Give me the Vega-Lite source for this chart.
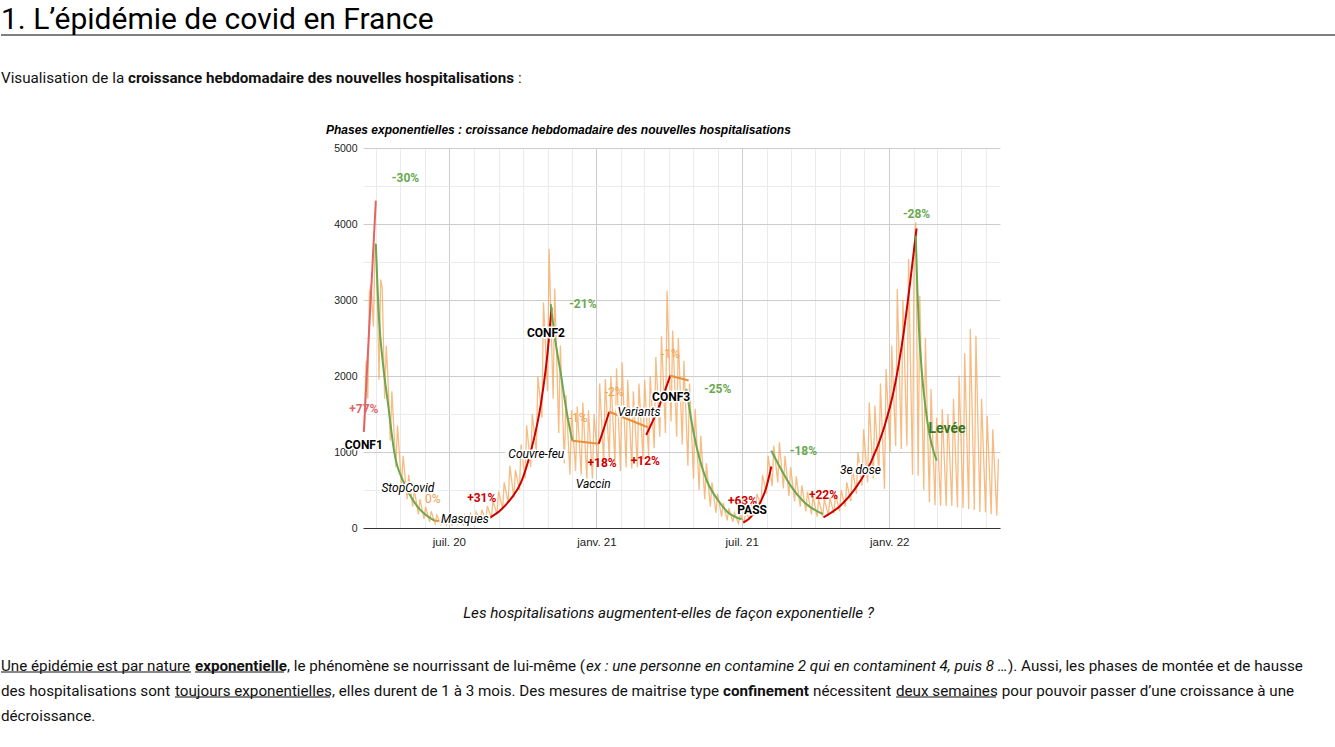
{
"$schema": "https://vega.github.io/schema/vega-lite/v6.json",
"padding": {"top": 4, "left": 0, "right": 0, "bottom": 0},
"spacing": 0,
"config": {
  "view": {"stroke": null},
  "font": "Roboto",
  "title": {"anchor": "start", "frame": "group", "offset": 0, "color": "#111111", "font": "Roboto", "fontWeight": "normal", "fontSize": 15.2}
},
"datasets": {
"daily": [
{"d":"2020/03/18","v":1300},{"d":"2020/03/19","v":1900},{"d":"2020/03/20","v":2200},{"d":"2020/03/22","v":1700},
{"d":"2020/03/24","v":3100},{"d":"2020/03/26","v":3200},{"d":"2020/03/29","v":2650},{"d":"2020/03/31","v":3700},
{"d":"2020/04/01","v":3750},{"d":"2020/04/02","v":3500},{"d":"2020/04/05","v":1950},{"d":"2020/04/07","v":3270},
{"d":"2020/04/09","v":3150},{"d":"2020/04/12","v":1700},{"d":"2020/04/14","v":2400},{"d":"2020/04/16","v":2000},
{"d":"2020/04/19","v":1150},{"d":"2020/04/21","v":1800},{"d":"2020/04/26","v":800},{"d":"2020/04/28","v":1350},
{"d":"2020/05/03","v":550},{"d":"2020/05/05","v":950},{"d":"2020/05/10","v":380},{"d":"2020/05/12","v":700},
{"d":"2020/05/17","v":280},{"d":"2020/05/19","v":500},{"d":"2020/05/24","v":180},{"d":"2020/05/26","v":380},
{"d":"2020/05/31","v":120},{"d":"2020/06/02","v":280},{"d":"2020/06/07","v":80},{"d":"2020/06/09","v":220},
{"d":"2020/06/14","v":60},{"d":"2020/06/16","v":170},{"d":"2020/06/21","v":50},{"d":"2020/06/23","v":140},
{"d":"2020/06/28","v":40},{"d":"2020/06/30","v":130},{"d":"2020/07/05","v":40},{"d":"2020/07/07","v":140},
{"d":"2020/07/12","v":50},{"d":"2020/07/14","v":150},{"d":"2020/07/19","v":50},{"d":"2020/07/21","v":170},
{"d":"2020/07/26","v":60},{"d":"2020/07/28","v":190},{"d":"2020/08/02","v":70},{"d":"2020/08/04","v":210},
{"d":"2020/08/09","v":80},{"d":"2020/08/11","v":240},{"d":"2020/08/16","v":100},{"d":"2020/08/18","v":290},
{"d":"2020/08/23","v":130},{"d":"2020/08/25","v":360},{"d":"2020/08/30","v":180},{"d":"2020/09/01","v":480},
{"d":"2020/09/06","v":250},{"d":"2020/09/08","v":600},{"d":"2020/09/13","v":330},{"d":"2020/09/15","v":820},
{"d":"2020/09/20","v":400},{"d":"2020/09/22","v":760},{"d":"2020/09/27","v":500},{"d":"2020/09/29","v":1100},
{"d":"2020/10/04","v":650},{"d":"2020/10/06","v":1350},{"d":"2020/10/11","v":800},{"d":"2020/10/13","v":1500},
{"d":"2020/10/18","v":1000},{"d":"2020/10/20","v":2000},{"d":"2020/10/25","v":1450},{"d":"2020/10/27","v":2970},
{"d":"2020/11/01","v":1800},{"d":"2020/11/03","v":3670},{"d":"2020/11/08","v":1700},{"d":"2020/11/10","v":3150},
{"d":"2020/11/15","v":1250},{"d":"2020/11/17","v":2400},{"d":"2020/11/22","v":850},{"d":"2020/11/24","v":1750},
{"d":"2020/11/29","v":700},{"d":"2020/12/01","v":1550},{"d":"2020/12/06","v":750},{"d":"2020/12/08","v":1600},
{"d":"2020/12/13","v":700},{"d":"2020/12/15","v":1650},{"d":"2020/12/20","v":650},{"d":"2020/12/22","v":1550},
{"d":"2020/12/27","v":650},{"d":"2020/12/29","v":1500},{"d":"2021/01/03","v":800},{"d":"2021/01/05","v":1900},
{"d":"2021/01/10","v":850},{"d":"2021/01/12","v":1960},{"d":"2021/01/17","v":900},{"d":"2021/01/19","v":2000},
{"d":"2021/01/24","v":850},{"d":"2021/01/26","v":2100},{"d":"2021/01/31","v":750},{"d":"2021/02/02","v":2180},
{"d":"2021/02/07","v":800},{"d":"2021/02/09","v":1950},{"d":"2021/02/14","v":780},{"d":"2021/02/16","v":1800},
{"d":"2021/02/21","v":800},{"d":"2021/02/23","v":1900},{"d":"2021/02/28","v":900},{"d":"2021/03/02","v":1950},
{"d":"2021/03/07","v":950},{"d":"2021/03/09","v":2000},{"d":"2021/03/14","v":1050},{"d":"2021/03/16","v":2250},
{"d":"2021/03/21","v":1200},{"d":"2021/03/23","v":2530},{"d":"2021/03/28","v":1250},{"d":"2021/03/30","v":3122},
{"d":"2021/04/04","v":1400},{"d":"2021/04/06","v":2600},{"d":"2021/04/11","v":1200},{"d":"2021/04/13","v":2500},
{"d":"2021/04/18","v":1100},{"d":"2021/04/20","v":2200},{"d":"2021/04/25","v":820},{"d":"2021/04/27","v":1900},
{"d":"2021/05/02","v":650},{"d":"2021/05/04","v":1570},{"d":"2021/05/09","v":500},{"d":"2021/05/11","v":1215},
{"d":"2021/05/16","v":380},{"d":"2021/05/18","v":850},{"d":"2021/05/23","v":280},{"d":"2021/05/25","v":600},
{"d":"2021/05/30","v":200},{"d":"2021/06/01","v":450},{"d":"2021/06/06","v":150},{"d":"2021/06/08","v":330},
{"d":"2021/06/13","v":100},{"d":"2021/06/15","v":260},{"d":"2021/06/20","v":80},{"d":"2021/06/22","v":200},
{"d":"2021/06/27","v":60},{"d":"2021/06/29","v":180},{"d":"2021/07/04","v":80},{"d":"2021/07/06","v":200},
{"d":"2021/07/11","v":120},{"d":"2021/07/13","v":300},{"d":"2021/07/18","v":200},{"d":"2021/07/20","v":450},
{"d":"2021/07/25","v":300},{"d":"2021/07/27","v":700},{"d":"2021/08/01","v":450},{"d":"2021/08/03","v":950},
{"d":"2021/08/08","v":550},{"d":"2021/08/10","v":1083},{"d":"2021/08/15","v":600},{"d":"2021/08/17","v":1127},
{"d":"2021/08/22","v":520},{"d":"2021/08/24","v":950},{"d":"2021/08/29","v":420},{"d":"2021/08/31","v":800},
{"d":"2021/09/05","v":350},{"d":"2021/09/07","v":680},{"d":"2021/09/12","v":280},{"d":"2021/09/14","v":560},
{"d":"2021/09/19","v":220},{"d":"2021/09/21","v":480},{"d":"2021/09/26","v":180},{"d":"2021/09/28","v":420},
{"d":"2021/10/03","v":150},{"d":"2021/10/05","v":380},{"d":"2021/10/10","v":150},{"d":"2021/10/12","v":380},
{"d":"2021/10/17","v":170},{"d":"2021/10/19","v":400},{"d":"2021/10/24","v":190},{"d":"2021/10/26","v":450},
{"d":"2021/10/31","v":220},{"d":"2021/11/02","v":500},{"d":"2021/11/07","v":280},{"d":"2021/11/09","v":600},
{"d":"2021/11/14","v":350},{"d":"2021/11/16","v":800},{"d":"2021/11/21","v":450},{"d":"2021/11/23","v":1000},
{"d":"2021/11/28","v":557},{"d":"2021/11/30","v":1300},{"d":"2021/12/05","v":600},{"d":"2021/12/07","v":1654},
{"d":"2021/12/12","v":650},{"d":"2021/12/14","v":1610},{"d":"2021/12/19","v":700},{"d":"2021/12/21","v":1900},
{"d":"2021/12/26","v":513},{"d":"2021/12/28","v":2092},{"d":"2022/01/02","v":1000},{"d":"2022/01/04","v":2400},
{"d":"2022/01/09","v":1080},{"d":"2022/01/11","v":3145},{"d":"2022/01/16","v":1040},{"d":"2022/01/18","v":3000},
{"d":"2022/01/23","v":1083},{"d":"2022/01/25","v":3540},{"d":"2022/01/30","v":700},{"d":"2022/02/01","v":3700},
{"d":"2022/02/03","v":4022},{"d":"2022/02/06","v":688},{"d":"2022/02/08","v":3057},{"d":"2022/02/13","v":500},
{"d":"2022/02/15","v":2500},{"d":"2022/02/20","v":340},{"d":"2022/02/22","v":1829},{"d":"2022/02/27","v":300},
{"d":"2022/03/01","v":1450},{"d":"2022/03/06","v":293},{"d":"2022/03/08","v":1566},{"d":"2022/03/13","v":290},
{"d":"2022/03/15","v":1500},{"d":"2022/03/20","v":293},{"d":"2022/03/22","v":1700},{"d":"2022/03/27","v":270},
{"d":"2022/03/29","v":2004},{"d":"2022/04/03","v":260},{"d":"2022/04/05","v":2300},{"d":"2022/04/10","v":250},
{"d":"2022/04/12","v":2618},{"d":"2022/04/17","v":240},{"d":"2022/04/19","v":2530},{"d":"2022/04/24","v":210},
{"d":"2022/04/26","v":1700},{"d":"2022/05/01","v":206},{"d":"2022/05/03","v":1478},{"d":"2022/05/08","v":180},
{"d":"2022/05/10","v":1300},{"d":"2022/05/15","v":162},{"d":"2022/05/17","v":908}
],
"curves": [
{"s":1,"k":"h1","d":"2020/03/17","v":1263},{"s":1,"k":"h1","d":"2020/04/01","v":4307},
{"s":2,"k":"b","d":"2020/04/01","v":3737},{"s":2,"k":"b","d":"2020/04/05","v":2750},{"s":2,"k":"b","d":"2020/04/10","v":2150},{"s":2,"k":"b","d":"2020/04/16","v":1654},{"s":2,"k":"b","d":"2020/04/24","v":996},{"s":2,"k":"b","d":"2020/05/07","v":575},{"s":2,"k":"b","d":"2020/05/22","v":295},{"s":2,"k":"b","d":"2020/06/13","v":96},
{"s":3,"k":"s","d":"2020/06/13","v":96},{"s":3,"k":"s","d":"2020/06/23","v":92},
{"s":4,"k":"h","d":"2020/08/20","v":128},{"s":4,"k":"h","d":"2020/09/04","v":240},{"s":4,"k":"h","d":"2020/09/16","v":380},{"s":4,"k":"h","d":"2020/09/29","v":601},{"s":4,"k":"h","d":"2020/10/11","v":1000},{"s":4,"k":"h","d":"2020/10/24","v":1650},{"s":4,"k":"h","d":"2020/11/01","v":2300},{"s":4,"k":"h","d":"2020/11/06","v":2904},
{"s":5,"k":"b","d":"2020/11/05","v":2947},{"s":5,"k":"b","d":"2020/11/11","v":2450},{"s":5,"k":"b","d":"2020/11/18","v":2000},{"s":5,"k":"b","d":"2020/11/25","v":1520},{"s":5,"k":"b","d":"2020/12/02","v":1149},
{"s":6,"k":"s","d":"2020/12/02","v":1149},{"s":6,"k":"s","d":"2021/01/04","v":1110},
{"s":7,"k":"h","d":"2021/01/04","v":1110},{"s":7,"k":"h","d":"2021/01/10","v":1303},{"s":7,"k":"h","d":"2021/01/17","v":1530},
{"s":8,"k":"s","d":"2021/01/17","v":1530},{"s":8,"k":"s","d":"2021/03/06","v":1325},
{"s":9,"k":"h","d":"2021/03/04","v":1224},{"s":9,"k":"h","d":"2021/03/19","v":1570},{"s":9,"k":"h","d":"2021/04/03","v":2004},
{"s":10,"k":"s","d":"2021/04/03","v":2004},{"s":10,"k":"s","d":"2021/04/26","v":1940},
{"s":11,"k":"b","d":"2021/04/23","v":1830},{"s":11,"k":"b","d":"2021/05/02","v":1260},{"s":11,"k":"b","d":"2021/05/10","v":890},{"s":11,"k":"b","d":"2021/05/19","v":610},{"s":11,"k":"b","d":"2021/06/02","v":358},{"s":11,"k":"b","d":"2021/06/13","v":215},{"s":11,"k":"b","d":"2021/07/01","v":115},
{"s":12,"k":"h","d":"2021/07/03","v":70},{"s":12,"k":"h","d":"2021/07/12","v":140},{"s":12,"k":"h","d":"2021/07/21","v":270},{"s":12,"k":"h","d":"2021/08/01","v":545},{"s":12,"k":"h","d":"2021/08/07","v":810},
{"s":13,"k":"b","d":"2021/08/07","v":1018},{"s":13,"k":"b","d":"2021/08/19","v":776},{"s":13,"k":"b","d":"2021/08/31","v":557},{"s":13,"k":"b","d":"2021/09/17","v":338},{"s":13,"k":"b","d":"2021/10/10","v":184},
{"s":14,"k":"h","d":"2021/10/11","v":141},{"s":14,"k":"h","d":"2021/11/01","v":293},{"s":14,"k":"h","d":"2021/11/22","v":557},{"s":14,"k":"h","d":"2021/12/09","v":864},{"s":14,"k":"h","d":"2021/12/25","v":1303},{"s":14,"k":"h","d":"2022/01/07","v":1829},{"s":14,"k":"h","d":"2022/01/19","v":2575},{"s":14,"k":"h","d":"2022/01/27","v":3233},{"s":14,"k":"h","d":"2022/02/04","v":3943},
{"s":15,"k":"b","d":"2022/02/03","v":3846},{"s":15,"k":"b","d":"2022/02/05","v":3145},{"s":15,"k":"b","d":"2022/02/07","v":2618},{"s":15,"k":"b","d":"2022/02/11","v":2004},{"s":15,"k":"b","d":"2022/02/17","v":1434},{"s":15,"k":"b","d":"2022/03/01","v":886}
],
"labels": [
{"d":"2020/05/08","v":4605,"txt":"-30%","k":"b"},
{"d":"2020/03/17","v":1566,"txt":"+77%","k":"h1"},
{"d":"2020/03/17","v":1092,"txt":"CONF1","k":"conf"},
{"d":"2020/05/11","v":526,"txt":"StopCovid","k":"ev"},
{"d":"2020/06/11","v":382,"txt":"0%","k":"s"},
{"d":"2020/07/21","v":118,"txt":"Masques","k":"ev"},
{"d":"2020/08/11","v":395,"txt":"+31%","k":"h"},
{"d":"2020/10/18","v":974,"txt":"Couvre-feu","k":"ev"},
{"d":"2020/10/30","v":2566,"txt":"CONF2","k":"conf"},
{"d":"2020/12/15","v":2947,"txt":"-21%","k":"b"},
{"d":"2020/12/09","v":1447,"txt":"-1%","k":"s"},
{"d":"2021/01/08","v":855,"txt":"+18%","k":"h"},
{"d":"2020/12/28","v":579,"txt":"Vaccin","k":"ev"},
{"d":"2021/01/23","v":1789,"txt":"-2%","k":"s"},
{"d":"2021/02/23","v":1526,"txt":"Variants","k":"ev"},
{"d":"2021/03/03","v":882,"txt":"+12%","k":"h"},
{"d":"2021/04/04","v":1724,"txt":"CONF3","k":"conf"},
{"d":"2021/04/03","v":2289,"txt":"-1%","k":"s"},
{"d":"2021/06/01","v":1829,"txt":"-25%","k":"b"},
{"d":"2021/07/02","v":355,"txt":"+63%","k":"h"},
{"d":"2021/07/14","v":237,"txt":"PASS","k":"conf"},
{"d":"2021/09/16","v":1013,"txt":"-18%","k":"b"},
{"d":"2021/10/11","v":434,"txt":"+22%","k":"h"},
{"d":"2021/11/26","v":763,"txt":"3e dose","k":"ev"},
{"d":"2022/02/04","v":4132,"txt":"-28%","k":"b"},
{"d":"2022/03/14","v":1303,"txt":"Levée","k":"lev"}
]
},
"vconcat": [
{"width": 1335, "height": 34.5,
 "title": {"text": "1. L’épidémie de covid en France", "fontSize": 30, "offset": 0, "color": "#000000"},
 "data": {"values": [{"a": 1}]},
 "mark": {"type": "rule", "color": "#000000", "strokeWidth": 1},
 "encoding": {"y": {"field": "a", "type": "quantitative", "scale": {"domain": [0, 1]}, "axis": null}}},
{"hconcat": [
  {"width": 0, "height": 33.8, "data": {"values": []}, "mark": "rule", "encoding": {}, "title": {"text": "Visualisation de la \u200b"}},
  {"width": 0, "height": 33.8, "data": {"values": []}, "mark": "rule", "encoding": {}, "title": {"text": "croissance hebdomadaire des nouvelles hospitalisations \u200b", "fontWeight": "bold"}},
  {"width": 0, "height": 33.8, "data": {"values": []}, "mark": "rule", "encoding": {}, "title": {"text": ":"}}
 ], "spacing": 0},
{"hconcat": [
  {"width": 325, "height": 456.5, "data": {"values": []}, "mark": "rule", "encoding": {}},
  {"width": 637, "height": 380,
   "title": {"text": "Phases exponentielles : croissance hebdomadaire des nouvelles hospitalisations", "font": "Liberation Sans", "fontSize": 12, "fontWeight": "bold", "fontStyle": "italic", "color": "#000000", "anchor": "start", "frame": "group", "dx": -37, "offset": 6},
   "encoding": {
     "x": {"field": "d", "type": "temporal",
       "scale": {"domain": [{"year": 2020, "month": 3, "date": 16}, {"year": 2022, "month": 5, "date": 19}]},
       "axis": {"title": null, "tickCount": {"interval": "month", "step": 1},
         "labelExpr": "month(datum.value) == 0 ? 'janv. ' + timeFormat(datum.value, '%y') : (month(datum.value) == 6 ? 'juil. ' + timeFormat(datum.value, '%y') : '')",
         "grid": true, "gridColor": {"condition": {"test": "month(datum.value) % 6 == 0", "value": "#cccccc"}, "value": "#ebebeb"},
         "ticks": false, "domain": true, "domainColor": "#333333", "domainWidth": 1,
         "labelPadding": 8, "labelFontSize": 11.5, "labelFont": "Liberation Sans", "labelColor": "#222222",
         "labelOverlap": false, "labelFlush": false, "labelBound": false}},
     "y": {"field": "v", "type": "quantitative",
       "scale": {"domain": [0, 5000], "nice": false},
       "axis": {"title": null, "values": [0, 500, 1000, 1500, 2000, 2500, 3000, 3500, 4000, 4500, 5000],
         "labelExpr": "datum.value % 1000 == 0 ? format(datum.value, 'd') : ''",
         "grid": true, "gridColor": {"condition": {"test": "datum.value % 1000 == 0", "value": "#cccccc"}, "value": "#ebebeb"},
         "domain": false, "ticks": false, "labelPadding": 6, "labelFontSize": 10.5, "labelFont": "Liberation Sans", "labelColor": "#222222",
         "minExtent": 29, "maxExtent": 29, "labelOverlap": false}}
   },
   "layer": [
     {"data": {"name": "daily"}, "mark": {"type": "line", "color": "#f3a55a", "opacity": 0.75, "strokeWidth": 1.3}},
     {"data": {"name": "curves"}, "mark": {"type": "line", "strokeWidth": 2, "interpolate": "monotone"},
      "encoding": {"detail": {"field": "s", "type": "nominal"},
        "color": {"field": "k", "type": "nominal", "scale": {"domain": ["h1", "h", "b", "s"], "range": ["#e06666", "#cc0000", "#6aa84f", "#e69138"]}, "legend": null}}},
     {"data": {"name": "labels"}, "transform": [{"filter": "datum.k == 'h1' || datum.k == 'h' || datum.k == 'b'"}],
      "mark": {"type": "text", "fontWeight": "bold", "fontSize": 12, "font": "Roboto"},
      "encoding": {"text": {"field": "txt"}, "color": {"field": "k", "type": "nominal", "legend": null}}},
     {"data": {"name": "labels"}, "transform": [{"filter": "datum.k == 's'"}],
      "mark": {"type": "text", "fontSize": 12, "font": "Roboto", "color": "#f0a050"},
      "encoding": {"text": {"field": "txt"}}},
     {"data": {"name": "labels"}, "transform": [{"filter": "datum.k == 'conf' || datum.k == 'ev'"}],
      "mark": {"type": "text", "fontSize": 12, "font": "Roboto", "fontWeight": "bold", "fill": "#ffffff", "stroke": "#ffffff", "strokeWidth": 3, "strokeJoin": "round"},
      "encoding": {"text": {"field": "txt"}}},
     {"data": {"name": "labels"}, "transform": [{"filter": "datum.k == 'conf'"}],
      "mark": {"type": "text", "fontSize": 12, "font": "Roboto", "fontWeight": "bold", "color": "#000000"},
      "encoding": {"text": {"field": "txt"}}},
     {"data": {"name": "labels"}, "transform": [{"filter": "datum.k == 'ev'"}],
      "mark": {"type": "text", "fontSize": 12, "font": "Roboto", "fontStyle": "italic", "color": "#000000"},
      "encoding": {"text": {"field": "txt"}}},
     {"data": {"name": "labels"}, "transform": [{"filter": "datum.k == 'lev'"}],
      "mark": {"type": "text", "fontSize": 14, "font": "Roboto", "fontWeight": "bold", "color": "#38761d"},
      "encoding": {"text": {"field": "txt"}}}
   ]}
 ], "spacing": 0},
{"width": 1335, "height": 32.8, "data": {"values": []}, "mark": "rule", "encoding": {},
 "title": {"text": "Les hospitalisations augmentent-elles de façon exponentielle ?", "fontStyle": "italic", "anchor": "middle"}},
{"hconcat": [
  {"width": 190, "height": 10.8, "data": {"values": [{"a": 1}]}, "mark": {"type": "rule", "color": "#111111", "strokeWidth": 1}, "encoding": {"y": {"field": "a", "type": "quantitative", "scale": {"domain": [0, 1]}, "axis": null}}, "title": {"text": "Une épidémie est par nature \u200b", "offset": -2.5}},
  {"width": 89, "height": 10.8, "data": {"values": [{"a": 1}]}, "mark": {"type": "rule", "color": "#111111", "strokeWidth": 1}, "encoding": {"y": {"field": "a", "type": "quantitative", "scale": {"domain": [0, 1]}, "axis": null}}, "title": {"text": "exponentielle", "fontWeight": "bold", "offset": -2.5}},
  {"width": 0, "height": 10.8, "data": {"values": []}, "mark": "rule", "encoding": {}, "title": {"text": ", le phénomène se nourrissant de lui-même (", "offset": -2.5}},
  {"width": 0, "height": 10.8, "data": {"values": []}, "mark": "rule", "encoding": {}, "title": {"text": "ex : une personne en contamine 2 qui en contaminent 4, puis 8 …", "fontStyle": "italic", "offset": -2.5}},
  {"width": 0, "height": 10.8, "data": {"values": []}, "mark": "rule", "encoding": {}, "title": {"text": "). Aussi, les phases de montée et de hausse", "offset": -2.5}}
 ], "spacing": 0},
{"hconcat": [
  {"width": 0, "height": 10.8, "data": {"values": []}, "mark": "rule", "encoding": {}, "title": {"text": "des hospitalisations sont \u200b", "offset": -2.5}},
  {"width": 155, "height": 10.8, "data": {"values": [{"a": 1}]}, "mark": {"type": "rule", "color": "#111111", "strokeWidth": 1}, "encoding": {"y": {"field": "a", "type": "quantitative", "scale": {"domain": [0, 1]}, "axis": null}}, "title": {"text": "toujours exponentielles", "offset": -2.5}},
  {"width": 0, "height": 10.8, "data": {"values": []}, "mark": "rule", "encoding": {}, "title": {"text": ", elles durent de 1 à 3 mois. Des mesures de maitrise type \u200b", "offset": -2.5}},
  {"width": 0, "height": 10.8, "data": {"values": []}, "mark": "rule", "encoding": {}, "title": {"text": "confinement \u200b", "fontWeight": "bold", "offset": -2.5}},
  {"width": 0, "height": 10.8, "data": {"values": []}, "mark": "rule", "encoding": {}, "title": {"text": "nécessitent \u200b", "offset": -2.5}},
  {"width": 100, "height": 10.8, "data": {"values": [{"a": 1}]}, "mark": {"type": "rule", "color": "#111111", "strokeWidth": 1}, "encoding": {"y": {"field": "a", "type": "quantitative", "scale": {"domain": [0, 1]}, "axis": null}}, "title": {"text": "deux semaines", "offset": -2.5}},
  {"width": 0, "height": 10.8, "data": {"values": []}, "mark": "rule", "encoding": {}, "title": {"text": "\u200b pour pouvoir passer d’une croissance à une", "offset": -2.5}}
 ], "spacing": 0},
{"width": 0, "height": 1, "data": {"values": []}, "mark": "rule", "encoding": {}, "title": {"text": "décroissance."}}
]
}
